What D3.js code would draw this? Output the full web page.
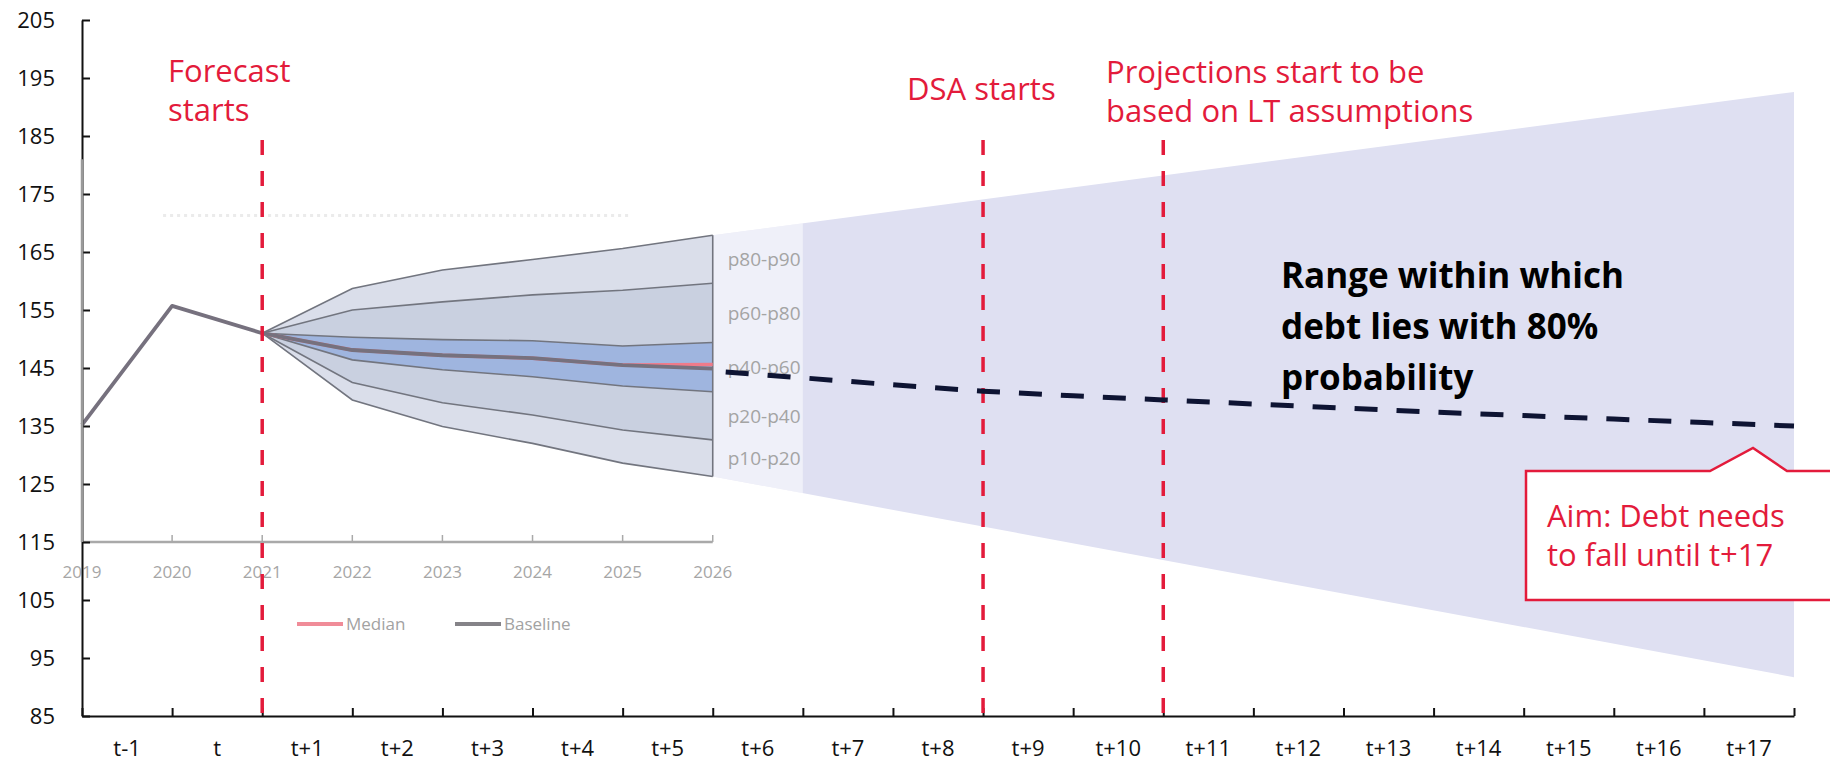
<!DOCTYPE html>
<html>
<head>
<meta charset="utf-8">
<script src="https://cdn.jsdelivr.net/npm/d3@7"></script>
<style>
  body { margin: 0; background: #fff; }
  text { font-family: "Open Sans", sans-serif; }
</style>
</head>
<body>
<div id="chart"></div>
<script>
// outer time axis
const periods = ['t-1', 't', 't+1', 't+2', 't+3', 't+4', 't+5', 't+6', 't+7', 't+8', 't+9',
    't+10', 't+11', 't+12', 't+13', 't+14', 't+15', 't+16', 't+17'];
const yTicks = [85, 95, 105, 115, 125, 135, 145, 155, 165, 175, 185, 195, 205];

// inset fan chart (years sit on the period boundaries)
const years = [2019, 2020, 2021, 2022, 2023, 2024, 2025, 2026];
const baseline = [135.2, 155.7, 151.0, 148.1, 147.2, 146.7, 145.5, 144.9];
const fanYears = [2021, 2022, 2023, 2024, 2025, 2026];
const median = [151.0, 148.1, 147.2, 146.7, 145.5, 145.6];
const p10 = [151.0, 139.5, 134.9, 132.0, 128.6, 126.3];
const p20 = [151.0, 142.5, 139.0, 136.9, 134.3, 132.6];
const p40 = [151.0, 146.4, 144.7, 143.5, 141.9, 140.9];
const p60 = [151.0, 150.3, 149.9, 149.7, 148.8, 149.4];
const p80 = [151.0, 155.0, 156.4, 157.6, 158.4, 159.6];
const p90 = [151.0, 158.7, 161.9, 163.7, 165.6, 167.9];
const bandLabels = ['p80-p90', 'p60-p80', 'p40-p60', 'p20-p40', 'p10-p20'];

// long-run projection, on period boundaries 7..19
const projIdx = [7, 8, 9, 10, 11, 12, 13, 14, 15, 16, 17, 18, 19];
const projection = [144.5, 143.3, 142.1, 141.0, 140.2, 139.5, 138.8, 138.1, 137.4, 136.8, 136.2, 135.6, 135.0];

// 80% range cone
const coneIdx = [7, 19];
const coneTop = [167.9, 192.6];
const coneBottom = [126.3, 91.7];

// vertical markers (period boundary index)
const markerIdx = [2, 10, 12];

const width = 1830, height = 764;
const red = '#e31b3b';

const svg = d3.select('#chart').append('svg').attr('width', width).attr('height', height);

const x = d3.scaleBand().domain(periods).range([82, 1794]);
const xi = d3.scaleLinear().domain([0, periods.length]).range([82, 1794]);
const y = d3.scaleLinear().domain([85, 205]).range([716, 20]);
const yearX = (yr) => xi(yr - years[0]);

// cone
const topAt = d3.scaleLinear().domain(coneIdx).range(coneTop);
const botAt = d3.scaleLinear().domain(coneIdx).range(coneBottom);
const coneArea = d3.area().x((k) => xi(k)).y0((k) => y(botAt(k))).y1((k) => y(topAt(k)));
svg.append('path').datum(coneIdx).attr('d', coneArea).attr('fill', '#dfe0f2');
// the inset picture washes out the first stretch of the cone
svg.append('path').datum([7, 8]).attr('d', coneArea).attr('fill', '#fff').attr('opacity', 0.5);

// faint cut-off title of the inset
svg.append('line')
    .attr('x1', xi(0.9)).attr('x2', xi(6.1))
    .attr('y1', y(171.3)).attr('y2', y(171.3))
    .attr('stroke', '#ebebeb').attr('stroke-width', 3).attr('stroke-dasharray', '3,4');

// fan bands
const fan = fanYears.map((yr, i) => ({
    yr, p10: p10[i], p20: p20[i], p40: p40[i], p60: p60[i], p80: p80[i], p90: p90[i], med: median[i]
}));
const bands = [
    ['p80', 'p90', '#dadeea'],
    ['p60', 'p80', '#c9d0e0'],
    ['p40', 'p60', '#9fb5df'],
    ['p20', 'p40', '#c9d0e0'],
    ['p10', 'p20', '#dadeea']
];
bands.forEach(([lo, hi, col]) => {
    svg.append('path').datum(fan)
        .attr('d', d3.area().x((d) => yearX(d.yr)).y0((d) => y(d[lo])).y1((d) => y(d[hi])))
        .attr('fill', col);
});
['p10', 'p20', 'p40', 'p60', 'p80', 'p90'].forEach((key) => {
    svg.append('path').datum(fan)
        .attr('d', d3.line().x((d) => yearX(d.yr)).y((d) => y(d[key])))
        .attr('fill', 'none').attr('stroke', '#72757f').attr('stroke-width', 1.6);
});
const last = fan[fan.length - 1];
svg.append('line')
    .attr('x1', yearX(last.yr)).attr('x2', yearX(last.yr))
    .attr('y1', y(last.p90)).attr('y2', y(last.p10))
    .attr('stroke', '#72757f').attr('stroke-width', 1.6);

// median and baseline
svg.append('path').datum(fan)
    .attr('d', d3.line().x((d) => yearX(d.yr)).y((d) => y(d.med)))
    .attr('fill', 'none').attr('stroke', '#ef7b8a').attr('stroke-width', 3.5);
svg.append('path').datum(years.map((yr, i) => ({ yr, v: baseline[i] })))
    .attr('d', d3.line().x((d) => yearX(d.yr)).y((d) => y(d.v)))
    .attr('fill', 'none').attr('stroke', '#76717e').attr('stroke-width', 3.8)
    .attr('stroke-linejoin', 'round');

// band labels
bands.forEach(([lo, hi], i) => {
    svg.append('text')
        .attr('x', yearX(last.yr) + 15)
        .attr('y', y((last[lo] + last[hi]) / 2))
        .attr('dy', '0.35em')
        .style('font-size', '19px').style('fill', '#a4a4a4')
        .text(bandLabels[i]);
});

// inset axes
svg.append('line')
    .attr('x1', yearX(years[0])).attr('x2', yearX(years[years.length - 1]))
    .attr('y1', y(115)).attr('y2', y(115))
    .attr('stroke', '#a9a9a9').attr('stroke-width', 2.5);
svg.selectAll('.inset-tick').data(years).enter().append('line')
    .attr('x1', (d) => yearX(d)).attr('x2', (d) => yearX(d))
    .attr('y1', y(115)).attr('y2', y(115) - 7)
    .attr('stroke', '#a9a9a9').attr('stroke-width', 1.5);
svg.selectAll('.inset-year').data(years).enter().append('text')
    .attr('x', (d) => yearX(d)).attr('y', y(115) + 36)
    .attr('text-anchor', 'middle')
    .style('font-size', '17px').style('fill', '#a6a6a6')
    .text((d) => d);

// inset legend
const legend = [
    { name: 'Median', color: '#f08c98', x0: 297 },
    { name: 'Baseline', color: '#858388', x0: 455 }
];
legend.forEach((l) => {
    svg.append('line')
        .attr('x1', l.x0).attr('x2', l.x0 + 46)
        .attr('y1', 624).attr('y2', 624)
        .attr('stroke', l.color).attr('stroke-width', 4);
    svg.append('text')
        .attr('x', l.x0 + 49).attr('y', 624).attr('dy', '0.35em')
        .style('font-size', '17px').style('fill', '#a2a2a2')
        .text(l.name);
});

// outer axes
const yAxis = d3.axisLeft(y).tickValues(yTicks).tickSize(-8).tickSizeOuter(0).tickPadding(27);
const gy = svg.append('g').attr('transform', 'translate(82,0)').call(yAxis);
gy.selectAll('text').style('font-size', '22px').style('fill', '#111').style('font-family', '"Open Sans", sans-serif');
gy.selectAll('line, path').attr('stroke', '#111').attr('stroke-width', 2);

const xTicks = d3.axisBottom(xi).tickValues(d3.range(0, periods.length + 1))
    .tickSize(-8).tickSizeOuter(0).tickFormat('');
const gx = svg.append('g').attr('transform', 'translate(0,716)').call(xTicks);
gx.selectAll('line, path').attr('stroke', '#111').attr('stroke-width', 2);

const gxl = svg.append('g').attr('transform', 'translate(0,716)')
    .call(d3.axisBottom(x).tickSize(0).tickPadding(24));
gxl.select('.domain').remove();
gxl.selectAll('text').style('font-size', '22px').style('fill', '#111').style('font-family', '"Open Sans", sans-serif');

// inset's own y-axis covers part of the outer axis
svg.append('line')
    .attr('x1', xi(0)).attr('x2', xi(0))
    .attr('y1', y(181)).attr('y2', y(115))
    .attr('stroke', '#9a9a9a').attr('stroke-width', 2.5);

// red marker lines
svg.selectAll('.marker').data(markerIdx).enter().append('line')
    .attr('x1', (d) => xi(d)).attr('x2', (d) => xi(d))
    .attr('y1', y(184.3)).attr('y2', y(85))
    .attr('stroke', red).attr('stroke-width', 3.5).attr('stroke-dasharray', '15,16');

// projection
svg.append('path').datum(projIdx.map((k, i) => ({ k, v: projection[i] })))
    .attr('d', d3.line().x((d) => xi(d.k)).y((d) => y(d.v)))
    .attr('fill', 'none').attr('stroke', '#0e1433').attr('stroke-width', 5)
    .attr('stroke-dasharray', '23,19').attr('stroke-dashoffset', 29);

// annotations
const redText = (lines, x0, y0) => {
    lines.forEach((t, i) => {
        svg.append('text').attr('x', x0).attr('y', y0 + i * 39)
            .style('font-size', '31px').style('fill', red).text(t);
    });
};
redText(['Forecast', 'starts'], 168, 82);
redText(['DSA starts'], 907, 100);
redText(['Projections start to be', 'based on LT assumptions'], 1106, 83);

['Range within which', 'debt lies with 80%', 'probability'].forEach((t, i) => {
    svg.append('text').attr('x', 1281).attr('y', 288 + i * 51)
        .style('font-size', '35px').style('font-weight', 'bold').style('fill', '#000').text(t);
});

svg.append('path')
    .attr('d', 'M1526,471 L1710,471 L1753,448 L1787,471 L1840,471 L1840,600 L1526,600 Z')
    .attr('fill', '#fff').attr('stroke', red).attr('stroke-width', 2.5);
redText(['Aim: Debt needs', 'to fall until t+17'], 1547, 527);
</script>
</body>
</html>
